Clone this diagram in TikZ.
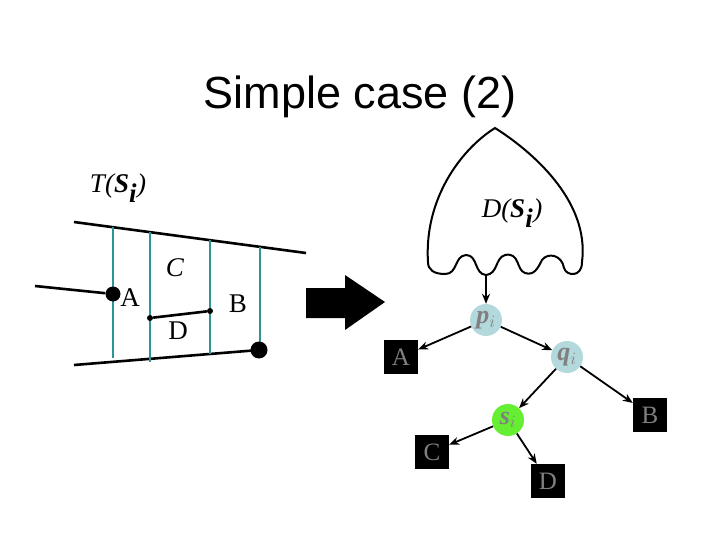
\documentclass[tikz,border=0pt]{standalone}
\usepackage{fontspec}
\setmainfont{Liberation Serif}
\newfontfamily\titlefont{Liberation Sans}
\usetikzlibrary{arrows.meta}
\definecolor{teal1}{HTML}{2E9494}
\definecolor{lblue}{HTML}{B4D9DD}
\definecolor{lgreen}{HTML}{66EE33}
\definecolor{gtext}{HTML}{808080}
\begin{document}
\begin{tikzpicture}[x=1pt,y=-1pt,
  teal/.style={teal1,line width=2pt},
  seg/.style={black,line width=2.6pt},
  leaf/.style={fill=black,text=gtext,minimum size=34pt,inner sep=0pt,font=\fontsize{25}{25}\selectfont},
  inner/.style={circle,minimum size=32pt,inner sep=0pt,text=gtext,font=\fontsize{26}{26}\selectfont\itshape\bfseries},
  tarr/.style={-{Stealth[length=10pt,width=8pt]},line width=1.8pt},
  lab/.style={font=\fontsize{27}{27}\selectfont}]
\useasboundingbox (0,0) rectangle (720,540);
% title
\node (title) [font=\titlefont\fontsize{45}{45}\selectfont] at (360,97) {Simple case (2)};
% left figure
\coordinate (t1) at (74,222); \coordinate (t2) at (306,253);
\coordinate (b1) at (74,365); \coordinate (b2) at (259,350);
\draw[seg] (t1) -- (t2);
\draw[seg] (b1) -- (b2);
\draw[teal] (113,227) -- (113,358);
\draw[teal] (150,232) -- (150,362);
\draw[teal] (210,240) -- (210,354);
\draw[teal] (260,247) -- (260,350);
\coordinate (l0) at (35,286);
\node (dA) [circle,fill=black,minimum size=15pt,inner sep=0pt] at (113,294) {};
\draw[seg] (l0) -- (dA);
\node (d1) [circle,fill=black,minimum size=6pt,inner sep=0pt] at (150,318) {};
\node (d2) [circle,fill=black,minimum size=6pt,inner sep=0pt] at (210,311) {};
\draw[seg] (d1) -- (d2);
\node (dB) [circle,fill=black,minimum size=17pt,inner sep=0pt] at (259,350) {};
\node (TS) [font=\fontsize{27}{27}\selectfont\itshape] at (118,188) {T(\textbf{S}$_{\textbf{\textit{i}}}$)};
\node (la) [lab] at (130,298) {A};
\node (lc) [lab,font=\fontsize{27}{27}\selectfont\itshape] at (175,268) {C};
\node (lb) [lab] at (238,304) {B};
\node (ld) [lab] at (178,331) {D};
% big arrow
\fill (306,288) -- (345,288) -- (345,275) -- (385,302) -- (345,330) -- (345,318) -- (306,318) -- cycle;
% D(S_i) shape
\draw[line width=2pt] (428,262) .. controls (424,200) and (460,150) .. (495,128)
  .. controls (530,150) and (590,200) .. (582,262)
  .. controls (582,278) and (566,276) .. (564,268)
  .. controls (562,255) and (548,252) .. (542,260)
  .. controls (538,268) and (534,276) .. (525,273)
  .. controls (516,270) and (520,252) .. (505,255)
  .. controls (495,258) and (498,274) .. (486,275)
  .. controls (474,274) and (478,255) .. (466,255)
  .. controls (454,256) and (458,274) .. (445,274)
  .. controls (434,274) and (428,270) .. (428,262) -- cycle;
\coordinate (ds) at (486,275);
\node (DS) [font=\fontsize{27}{27}\selectfont\itshape] at (512,213) {D(\textbf{S}$_{\textbf{\textit{i}}}$)};
% tree
\node (p) [inner,fill=lblue] at (486,320) {p$_{i}$};
\node (q) [inner,fill=lblue] at (567,357) {q$_{i}$};
\node (s) [inner,fill=lgreen] at (508,420) {s$_{i}$};
\node (A) [leaf] at (401,357) {A};
\node (B) [leaf] at (650,415) {B};
\node (C) [leaf] at (432,452) {C};
\node (D) [leaf] at (548,481) {D};
\draw[tarr] (ds) -- (p);
\draw[tarr] (p) -- (A);
\draw[tarr] (p) -- (q);
\draw[tarr] (q) -- (s);
\draw[tarr] (q) -- (B);
\draw[tarr] (s) -- (C);
\draw[tarr] (s) -- (D);
\end{tikzpicture}
\end{document}
